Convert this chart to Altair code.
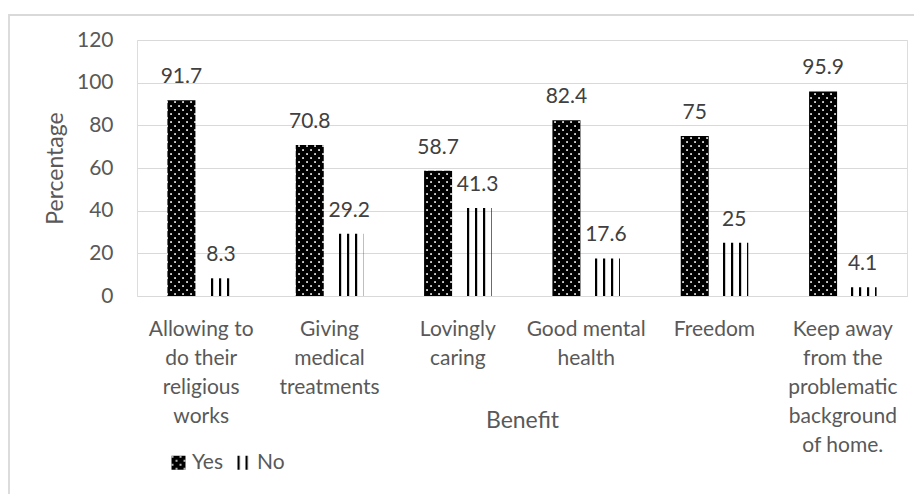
import altair as alt
import pandas as pd
import jinja2

categories = [
    "Allowing to|do their|religious|works",
    "Giving|medical|treatments",
    "Lovingly|caring",
    "Good mental|health",
    "Freedom",
    "Keep away|from the|problematic|background|of home.",
]
yes_values = [91.7, 70.8, 58.7, 82.4, 75, 95.9]
no_values = [8.3, 29.2, 41.3, 17.6, 25, 4.1]
series = ["Yes", "No"]
y_ticks = [0, 20, 40, 60, 80, 100, 120]

rows = []
for c, yv, nv in zip(categories, yes_values, no_values):
    rows.append({"Benefit": c, "Answer": "Yes", "Percentage": yv})
    rows.append({"Benefit": c, "Answer": "No", "Percentage": nv})
df = pd.DataFrame(rows)

FONT = "Lato"
TXT = "#595959"

x_enc = alt.X(
    "Benefit:N",
    sort=categories,
    scale=alt.Scale(paddingInner=0.474, paddingOuter=0.237),
    axis=alt.Axis(
        title="Benefit",
        labelExpr="split(datum.label, '|')",
        labelAngle=0,
        labelFont=FONT,
        labelFontSize=21,
        labelColor=TXT,
        labelLineHeight=29,
        labelBaseline="alphabetic",
        labelPadding=39,
        labelOverlap=False,
        labelLimit=0,
        ticks=False,
        tickSize=0,
        domain=False,
        titleFont=FONT,
        titleFontSize=23,
        titleFontWeight="normal",
        titleColor=TXT,
        titleX=385,
        titleY=131,
        titleBaseline="alphabetic",
        titleAlign="center",
    ),
)
xo_enc = alt.XOffset(
    "Answer:N", sort=series, scale=alt.Scale(paddingInner=0.291, paddingOuter=0)
)
y_enc = alt.Y(
    "Percentage:Q",
    scale=alt.Scale(domain=[0, 120], nice=False),
    axis=alt.Axis(
        title="Percentage",
        values=y_ticks,
        labelFont=FONT,
        labelFontSize=21,
        labelColor=TXT,
        labelPadding=24,
        ticks=False,
        tickSize=0,
        domain=False,
        grid=True,
        gridColor="#d9d9d9",
        gridWidth=1.2,
        titleFont=FONT,
        titleFontSize=23,
        titleFontWeight="normal",
        titleColor=TXT,
        titleAngle=270,
        titleX=-75,
        titleY=128,
        titleBaseline="alphabetic",
        titleAlign="center",
    ),
)

bars = alt.Chart(df).mark_bar(strokeWidth=0).encode(
    x=x_enc,
    xOffset=xo_enc,
    y=y_enc,
    color=alt.Color(
        "Answer:N",
        sort=series,
        scale=alt.Scale(domain=series, range=["url(#dots)", "url(#stripes)"]),
        legend=alt.Legend(
            title=None,
            orient="none",
            legendX=31,
            legendY=412,
            direction="horizontal",
            symbolType="square",
            symbolSize=196,
            symbolStrokeWidth=0,
            labelFont=FONT,
            labelFontSize=21,
            labelColor=TXT,
            labelOffset=3,
            columnPadding=10,
            padding=0,
        ),
    ),
)

labels = alt.Chart(df).mark_text(
    dy=-17, baseline="alphabetic", align="center", font=FONT, fontSize=21, color="#404040"
).encode(
    x=alt.X("Benefit:N", sort=categories),
    xOffset=alt.XOffset("Answer:N", sort=series),
    y="Percentage:Q",
    text=alt.Text("Percentage:Q", format=".1~f"),
)

frame = alt.Chart(alt.Data(values=[{"f": 1}])).mark_rect(
    filled=False, stroke="#d9d9d9", strokeWidth=1.8
).encode(
    x=alt.value(-128), x2=alt.value(1200), y=alt.value(-25), y2=alt.value(1200)
)

chart = alt.layer(frame, bars, labels).properties(
    width=770,
    height=256,
    autosize=alt.AutoSizeParams(type="none"),
    padding={"left": 129, "top": 32, "right": 7, "bottom": 198},
).configure_view(stroke=None).configure(background="white")

TEMPLATE = jinja2.Template("""<!DOCTYPE html>
<html>
<head>
  <meta charset="utf-8">
  <style>
    #{{ output_div }}.vega-embed { width: 100%; display: flex; }
  </style>
  <script type="text/javascript" src="{{ base_url }}/vega@{{ vega_version }}"></script>
  <script type="text/javascript" src="{{ base_url }}/vega-lite@{{ vegalite_version }}"></script>
  <script type="text/javascript" src="{{ base_url }}/vega-embed@{{ vegaembed_version }}"></script>
</head>
<body>
  <svg width="0" height="0" style="position:absolute;left:0;top:0" aria-hidden="true">
    <defs>
      <pattern id="dots" patternUnits="userSpaceOnUse" x="0" y="0" width="8" height="8">
        <rect x="0" y="0" width="8" height="8" fill="#000000"></rect>
        <rect x="1.2" y="1.2" width="1.7" height="1.7" fill="#ffffff"></rect>
        <rect x="5.2" y="5.2" width="1.7" height="1.7" fill="#ffffff"></rect>
      </pattern>
      <pattern id="stripes" patternUnits="userSpaceOnUse" x="0" y="0" width="8" height="8">
        <rect x="2" y="0" width="2.2" height="8" fill="#000000"></rect>
      </pattern>
    </defs>
  </svg>
  <div id="{{ output_div }}"></div>
  <script type="text/javascript">
    var spec = {{ spec }};
    var embedOpt = {{ embed_options }};
    vegaEmbed("#{{ output_div }}", spec, embedOpt).catch(function(e){ console.error(e); });
  </script>
</body>
</html>
""")

chart.save(
    "out.html",
    embed_options={"renderer": "svg", "actions": False},
    template=TEMPLATE,
)
